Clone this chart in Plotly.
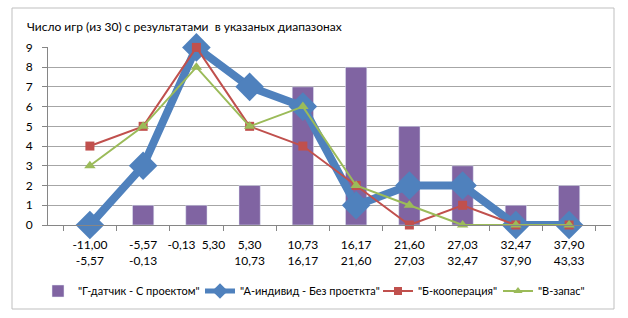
import plotly.graph_objects as go

categories = ["-11,00<br>-5,57", "-5,57<br>-0,13", "-0,13  5,30<br> ", "5,30<br>10,73", "10,73<br>16,17",
              "16,17<br>21,60", "21,60<br>27,03", "27,03<br>32,47", "32,47<br>37,90", "37,90<br>43,33"]
g_sensor = [0, 1, 1, 2, 7, 8, 5, 3, 1, 2]
a_individ = [0, 3, 9, 7, 6, 1, 2, 2, 0, 0]
b_coop = [4, 5, 9, 5, 4, 2, 0, 1, 0, 0]
v_zapas = [3, 5, 8, 5, 6, 2, 1, 0, 0, 0]

names = ['"Г-датчик - С проектом"', '"А-индивид - Без проеткта"', '"Б-кооперация"', '"В-запас"']

L, R, T, B = 48, 611, 47, 225
W, H = 628, 318
def px(x): return (x - L) / (R - L)
def py(y): return (B - y) / (B - T)

blue, red, green, purple = "#4F81BD", "#C0504D", "#9BBB59", "#8064A2"
legend_text_left = [80, 242, 420, 540]

fig = go.Figure()
fig.add_trace(go.Bar(x=categories, y=g_sensor, name=names[0], marker_color=purple, width=0.4,
                     legend="legend"))
fig.add_trace(go.Scatter(x=categories, y=a_individ, name=names[1], mode="lines+markers", showlegend=False,
                         line=dict(color=blue, width=8),
                         marker=dict(symbol="diamond", size=22, color=blue), cliponaxis=False))
fig.add_trace(go.Scatter(x=categories, y=b_coop, name=names[2], mode="lines+markers", showlegend=False,
                         line=dict(color=red, width=2),
                         marker=dict(symbol="square", size=9, color=red), cliponaxis=False))
fig.add_trace(go.Scatter(x=categories, y=v_zapas, name=names[3], mode="lines+markers", showlegend=False,
                         line=dict(color=green, width=2),
                         marker=dict(symbol="triangle-up", size=10, color=green), cliponaxis=False))
# legend entries with smaller symbols
for i, (nm, col, sym, sz, lw) in enumerate([(names[1], blue, "diamond", 12, 5), (names[2], red, "square", 8, 2),
                                            (names[3], green, "triangle-up", 8, 2)]):
    fig.add_trace(go.Scatter(x=[None], y=[None], name=nm, mode="lines+markers", legend=f"legend{i + 2}",
                             line=dict(color=col, width=lw), marker=dict(symbol=sym, size=sz, color=col)))

leg_common = dict(orientation="h", xref="container", yref="container", xanchor="left",
                  y=1 - 291 / H, yanchor="middle", font=dict(size=11), itemwidth=30,
                  bgcolor="rgba(0,0,0,0)")
legends = {}
for i, xl in enumerate(legend_text_left):
    key = "legend" if i == 0 else f"legend{i + 1}"
    legends[key] = dict(leg_common, x=(xl - 42) / W)

fig.update_layout(
    width=W, height=H,
    margin=dict(l=L, r=W - R, t=T, b=H - B, autoexpand=False),
    plot_bgcolor="white", paper_bgcolor="white",
    font=dict(family="Lato", size=12, color="#000000"),
    showlegend=True,
    xaxis=dict(type="category", tickson="boundaries", ticks="outside", ticklen=5, tickcolor="#868686",
               showline=True, linecolor="#868686", showgrid=False, tickfont=dict(size=12), tickangle=0,
               automargin=False, ticklabelstandoff=9),
    yaxis=dict(range=[0, 9.02], dtick=1, ticks="outside", ticklen=5, tickcolor="#868686",
               showline=True, linecolor="#868686", gridcolor="#A6A6A6", zeroline=False,
               tickfont=dict(size=12), automargin=False, ticklabelstandoff=7),
    annotations=[dict(text="Число игр (из 30) с результатами  в указаных диапазонах", xref="paper", yref="paper",
                      x=px(25), y=py(27), xanchor="left", yanchor="middle", showarrow=False,
                      font=dict(size=12))],
    shapes=[dict(type="rect", xref="paper", yref="paper", x0=px(12), x1=px(614), y0=py(8), y1=py(309),
                 line=dict(color="#BFBFBF", width=1), layer="below")],
    **legends,
)
fig.write_html("out.html")
